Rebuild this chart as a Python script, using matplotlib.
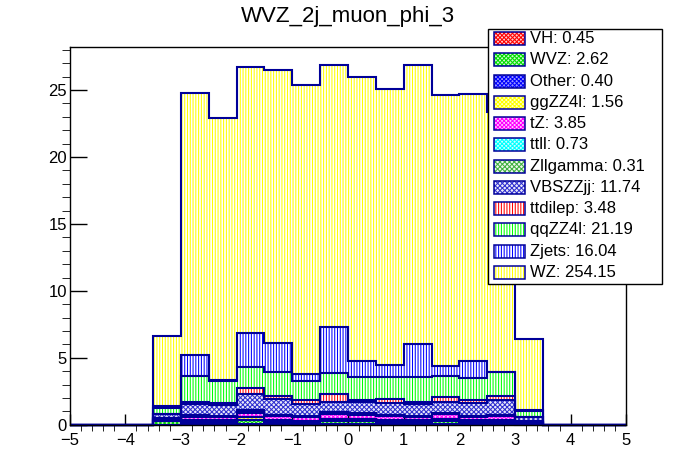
import numpy as np
import matplotlib
matplotlib.use("Agg")
import matplotlib.pyplot as plt
from matplotlib.patches import Rectangle
from matplotlib.colors import to_rgb

plt.rcParams['font.family'] = ['Liberation Sans', 'DejaVu Sans']
plt.rcParams['hatch.linewidth'] = 0.75

title = "WVZ_2j_muon_phi_3"

# bin edges of the filled bins (the histogram runs -5..5 in 0.5 steps)
bin_lo = -3.5
bin_w = 0.5

# per-bin contents, bins -3.5..3.5, stacking order bottom -> top
VH       = [0.02, 0.03, 0.03, 0.08, 0.03, 0.02, 0.05, 0.04, 0.03, 0.03, 0.06, 0.03, 0.03, 0.00]
WVZ      = [0.25, 0.20, 0.17, 0.25, 0.20, 0.15, 0.22, 0.22, 0.20, 0.18, 0.20, 0.18, 0.20, 0.12]
Other    = [0.03, 0.03, 0.03, 0.05, 0.03, 0.03, 0.04, 0.03, 0.03, 0.03, 0.04, 0.03, 0.03, 0.02]
ggZZ4l   = [0.05, 0.10, 0.10, 0.20, 0.12, 0.10, 0.12, 0.12, 0.12, 0.10, 0.12, 0.10, 0.12, 0.03]
tZ       = [0.10, 0.25, 0.22, 0.33, 0.27, 0.25, 0.38, 0.34, 0.28, 0.22, 0.35, 0.25, 0.28, 0.04]
ttll     = [0.03, 0.05, 0.04, 0.10, 0.06, 0.05, 0.08, 0.07, 0.06, 0.04, 0.06, 0.05, 0.06, 0.02]
Zllgamma = [0.02, 0.04, 0.03, 0.06, 0.04, 0.02, 0.06, 0.05, 0.03, 0.02, 0.04, 0.03, 0.03, 0.02]
VBSZZjj  = [0.30, 0.84, 0.85, 1.24, 1.19, 0.95, 0.79, 0.87, 0.87, 0.92, 0.87, 0.95, 1.09, 0.32]
ttdilep  = [0.00, 0.20, 0.15, 0.43, 0.20, 0.27, 0.55, 0.13, 0.30, 0.15, 0.32, 0.25, 0.30, 0.00]
qqZZ4l   = [0.48, 1.89, 1.68, 1.54, 1.79, 1.42, 1.57, 1.69, 1.68, 1.91, 1.62, 1.59, 1.79, 0.43]
Zjets    = [0.09, 1.59, 0.06, 2.56, 2.17, 0.52, 3.43, 1.19, 0.85, 2.42, 0.70, 1.29, 0.03, 0.12]
WZ       = [5.23, 19.53, 19.54, 19.86, 20.40, 21.57, 19.55, 21.20, 20.60, 20.82, 20.22, 19.95, 19.37, 5.28]

names  = ["VH", "WVZ", "Other", "ggZZ4l", "tZ", "ttll", "Zllgamma",
          "VBSZZjj", "ttdilep", "qqZZ4l", "Zjets", "WZ"]
totals = [0.45, 2.62, 0.40, 1.56, 3.85, 0.73, 0.31, 11.74, 3.48, 21.19, 16.04, 254.15]
series = [VH, WVZ, Other, ggZZ4l, tZ, ttll, Zllgamma, VBSZZjj, ttdilep, qqZZ4l, Zjets, WZ]

# fill style per sample: (colour, hatch, fraction of colour in the background)
styles = [
    ("#ff0000", "xxxxxxxx", 0.2),
    ("#00dd00", "xxxxxxxx", 0.2),
    ("#0000ff", "xxxxxxxx", 0.4),
    ("#ffff00", "xxxxxxxx", 0.2),
    ("#ff00ff", "xxxxxxxx", 0.2),
    ("#00ffff", "xxxxxxxx", 0.2),
    ("#40b040", "xxxxxxx", 0.1),
    ("#3030d0", "xxxxxxx", 0.1),
    ("#ff0000", "||||||", 0.0),
    ("#00ff00", "||||||", 0.0),
    ("#0000ff", "||||||", 0.0),
    ("#ffff00", "||||||", 0.0),
]
line_col = "#000099"


def bg(col, frac):
    c = np.array(to_rgb(col))
    return tuple(frac * c + (1 - frac) * np.ones(3))


fig = plt.figure(figsize=(6.96, 4.72), dpi=100)
ax = fig.add_axes([0.1, 0.1, 0.8, 0.8])

nb = len(WZ)
lefts = bin_lo + bin_w * np.arange(nb)
edges_full = np.arange(-5, 5.01, 0.5)
pad_l = int(round((bin_lo + 5) / bin_w))
pad_r = len(edges_full) - 1 - nb - pad_l

cum = np.zeros(nb)
tops = []
for vals, (hc, hp, fr) in zip(series, styles):
    v = np.array(vals)
    ax.bar(lefts, v, width=bin_w, bottom=cum, align='edge', color=bg(hc, fr),
           edgecolor=hc, hatch=hp, linewidth=0, zorder=1)
    cum = cum + v
    tops.append(cum.copy())

# outlines, drawn like ROOT: tallest first, each as a full histogram
for t in reversed(tops):
    full = np.concatenate([np.zeros(pad_l), t, np.zeros(pad_r)])
    ax.stairs(full, edges_full, baseline=0, color=line_col, linewidth=1.5, zorder=3, clip_on=False)

ax.set_xlim(-5, 5)
ax.set_ylim(0, 28.2)
ax.set_xticks(np.arange(-5, 5.1, 1))
ax.set_xticks(np.arange(-5, 5.01, 0.2), minor=True)
ax.set_yticks(np.arange(0, 26, 5))
ax.set_yticks(np.arange(0, 28.2, 1), minor=True)
ax.tick_params(axis='both', direction='in', labelsize=12, top=False, right=False, width=1)
ax.tick_params(axis='x', which='major', length=8, pad=6)
ax.tick_params(axis='x', which='minor', length=4)
ax.tick_params(axis='y', which='major', length=12, pad=2)
ax.tick_params(axis='y', which='minor', length=6)
for s in ax.spines.values():
    s.set_linewidth(1)
    s.set_zorder(4)

fig.text(0.5, 1 - 22 / 472, title, ha='center', va='baseline', fontsize=16)

# legend box in pixel coordinates
lax = fig.add_axes([0, 0, 1, 1], zorder=10)
lax.set_xlim(0, 696)
lax.set_ylim(472, 0)
lax.axis('off')
lax.add_patch(Rectangle((487.5, 28.5), 174, 255, facecolor='white', edgecolor='black', linewidth=1))
for i, (nm, tot, (hc, hp, fr)) in enumerate(zip(names, totals, styles)):
    yc = 38.7 + 21.24 * i
    lax.add_patch(Rectangle((493.5, yc - 6.5), 31, 13, facecolor=bg(hc, fr), edgecolor=hc,
                            hatch=hp, linewidth=0))
    lax.add_patch(Rectangle((493.5, yc - 6.5), 31, 13, fill=False, edgecolor=line_col, linewidth=1.1))
    lax.text(530, yc, f"{nm}: {tot:.2f}", ha='left', va='center', fontsize=12)

fig.savefig("out.png", dpi=100)
